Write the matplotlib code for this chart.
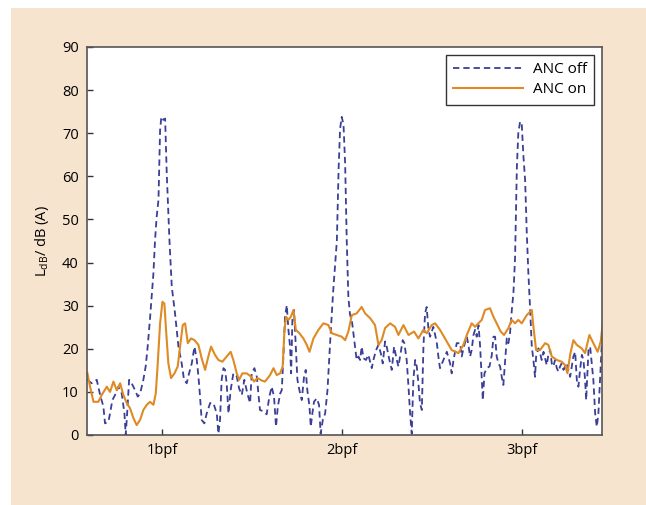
import matplotlib
matplotlib.use("Agg")
import matplotlib.pyplot as plt
from matplotlib.patches import Rectangle

# ANC off (blue, dashed), x in multiples of bpf
off_bpf = [0.585, 0.609, 0.637, 0.656, 0.674, 0.683, 0.702, 0.711, 0.724, 0.739,
           0.757, 0.776, 0.791, 0.798, 0.806, 0.817, 0.831, 0.850, 0.865, 0.878,
           0.896, 0.909, 0.920, 0.933, 0.952, 0.961, 0.970, 0.980, 0.989, 0.996,
           1.007, 1.017, 1.026, 1.041, 1.054, 1.072, 1.091, 1.109, 1.122, 1.137,
           1.150, 1.165, 1.180, 1.193, 1.202, 1.211, 1.220, 1.235, 1.248, 1.267,
           1.285, 1.304, 1.313, 1.322, 1.331, 1.341, 1.350, 1.359, 1.369, 1.381,
           1.396, 1.415, 1.428, 1.443, 1.457, 1.474, 1.489, 1.498, 1.513, 1.526,
           1.544, 1.563, 1.581, 1.596, 1.609, 1.622, 1.633, 1.643, 1.656, 1.665,
           1.674, 1.683, 1.693, 1.702, 1.711, 1.717, 1.724, 1.733, 1.743, 1.752,
           1.763, 1.776, 1.789, 1.798, 1.807, 1.819, 1.826, 1.835, 1.844, 1.859,
           1.872, 1.881, 1.893, 1.906, 1.919, 1.933, 1.950, 1.971, 1.981, 1.989,
           1.998, 2.008, 2.017, 2.026, 2.035, 2.044, 2.056, 2.072, 2.081, 2.091,
           2.100, 2.109, 2.119, 2.133, 2.146, 2.165, 2.174, 2.189, 2.202, 2.215,
           2.226, 2.239, 2.248, 2.263, 2.276, 2.289, 2.304, 2.313, 2.322, 2.337,
           2.346, 2.359, 2.369, 2.378, 2.387, 2.396, 2.406, 2.415, 2.424, 2.433,
           2.443, 2.452, 2.461, 2.470, 2.480, 2.489, 2.507, 2.526, 2.535, 2.544,
           2.563, 2.582, 2.600, 2.609, 2.619, 2.637, 2.656, 2.665, 2.674, 2.693,
           2.702, 2.711, 2.720, 2.730, 2.739, 2.748, 2.758, 2.767, 2.776, 2.782,
           2.791, 2.804, 2.819, 2.832, 2.841, 2.850, 2.859, 2.869, 2.878, 2.887,
           2.896, 2.906, 2.915, 2.924, 2.933, 2.943, 2.952, 2.961, 2.971, 2.979,
           2.989, 2.998, 3.007, 3.017, 3.026, 3.035, 3.044, 3.054, 3.063, 3.072,
           3.078, 3.091, 3.100, 3.109, 3.119, 3.128, 3.137, 3.146, 3.156, 3.165,
           3.174, 3.183, 3.193, 3.202, 3.211, 3.220, 3.230, 3.239, 3.248, 3.257,
           3.267, 3.276, 3.285, 3.295, 3.304, 3.313, 3.322, 3.332, 3.341, 3.350,
           3.356, 3.363, 3.369, 3.378, 3.387, 3.396, 3.406, 3.415, 3.424, 3.433,
           3.443]
off_db = [12.8, 12.0, 12.8, 9.3, 6.6, 2.7, 3.1, 5.0, 8.1, 9.3,
          11.2, 9.6, 5.0, 0.0, 5.0, 12.8, 12.0, 10.4, 8.9, 9.6,
          12.8, 15.9, 20.5, 27.0, 37.5, 45.2, 50.6, 54.5, 70.7, 73.8,
          73.1, 73.4, 60.7, 45.2, 34.4, 28.2, 20.5, 16.6, 12.8, 12.0,
          14.3, 16.6, 20.5, 17.4, 13.6, 8.9, 3.5, 2.7, 5.0, 7.4,
          7.4, 5.0, 0.3, 3.5, 12.8, 15.5, 15.1, 12.0, 5.0, 10.4,
          14.3, 13.6, 10.8, 9.3, 12.8, 9.6, 7.4, 14.3, 15.5, 13.6,
          5.8, 5.5, 4.8, 8.9, 11.2, 8.9, 1.9, 6.6, 9.6, 10.4,
          18.2, 27.4, 30.1, 24.4, 20.5, 14.3, 26.7, 29.0, 20.5, 12.8,
          10.4, 8.1, 13.6, 15.1, 10.4, 6.6, 1.9, 5.0, 7.7, 8.5,
          7.0, 0.3, 3.5, 5.0, 10.4, 21.0, 33.0, 45.0, 62.0, 71.0,
          73.8, 72.0, 63.0, 45.0, 32.0, 28.0, 26.0, 20.5, 17.4, 18.2,
          17.4, 20.5, 17.8, 17.4, 18.6, 15.5, 17.4, 19.7, 20.9, 19.0,
          16.6, 21.7, 20.5, 17.4, 15.1, 20.5, 17.4, 15.9, 18.2, 22.0,
          21.3, 17.4, 11.2, 5.0, 0.3, 12.8, 17.4, 15.9, 12.0, 7.4,
          5.8, 20.5, 28.2, 29.7, 24.4, 22.8, 25.1, 21.5, 18.2, 15.5,
          17.4, 19.3, 16.6, 14.3, 17.4, 21.3, 21.3, 18.2, 20.1, 22.8,
          20.9, 18.2, 19.7, 23.2, 24.4, 22.8, 25.5, 20.5, 12.8, 8.1,
          14.3, 15.5, 15.9, 18.6, 22.8, 22.8, 18.2, 16.6, 15.9, 13.5,
          11.6, 17.4, 22.4, 21.3, 23.6, 29.0, 33.0, 41.0, 62.0, 70.0,
          72.7, 72.3, 65.0, 59.0, 47.0, 37.5, 29.8, 20.5, 17.4, 13.5,
          18.2, 20.1, 19.0, 17.4, 19.3, 17.8, 16.2, 18.6, 19.7, 16.6,
          15.9, 17.4, 15.5, 14.7, 15.9, 16.6, 15.1, 15.9, 16.6, 15.1,
          13.5, 15.9, 18.2, 19.3, 12.8, 11.2, 15.1, 18.6, 17.4, 12.8,
          8.1, 14.3, 19.7, 20.5, 16.6, 12.8, 5.0, 1.9, 5.0, 12.8,
          21.3]

# ANC on (orange, solid)
on_bpf = [0.585, 0.600, 0.619, 0.646, 0.665, 0.693, 0.711, 0.730, 0.748, 0.767,
          0.785, 0.804, 0.822, 0.841, 0.859, 0.878, 0.896, 0.915, 0.933, 0.952,
          0.965, 0.976, 0.989, 1.002, 1.013, 1.022, 1.035, 1.050, 1.069, 1.087,
          1.100, 1.115, 1.128, 1.143, 1.161, 1.180, 1.202, 1.220, 1.239, 1.257,
          1.272, 1.294, 1.313, 1.335, 1.359, 1.381, 1.396, 1.415, 1.428, 1.446,
          1.470, 1.493, 1.511, 1.530, 1.556, 1.572, 1.600, 1.619, 1.637, 1.656,
          1.670, 1.680, 1.689, 1.702, 1.715, 1.730, 1.743, 1.763, 1.785, 1.804,
          1.819, 1.841, 1.869, 1.896, 1.924, 1.943, 1.970, 1.998, 2.017, 2.035,
          2.054, 2.081, 2.109, 2.128, 2.156, 2.183, 2.202, 2.220, 2.239, 2.267,
          2.294, 2.313, 2.341, 2.369, 2.400, 2.424, 2.452, 2.470, 2.498, 2.517,
          2.544, 2.581, 2.609, 2.646, 2.674, 2.693, 2.720, 2.739, 2.757, 2.776,
          2.794, 2.822, 2.841, 2.859, 2.881, 2.900, 2.924, 2.942, 2.961, 2.979,
          2.998, 3.026, 3.054, 3.063, 3.078, 3.100, 3.128, 3.146, 3.165, 3.193,
          3.220, 3.239, 3.252, 3.267, 3.285, 3.304, 3.331, 3.350, 3.374, 3.396,
          3.420, 3.437, 3.448]
on_db = [14.4, 11.2, 7.7, 7.7, 9.3, 11.2, 10.0, 12.4, 10.4, 12.0,
         9.3, 7.4, 6.2, 3.9, 2.3, 3.5, 5.8, 7.0, 7.7, 7.0,
         9.6, 16.6, 25.9, 30.9, 30.5, 24.4, 16.6, 13.2, 14.3, 15.9,
         20.5, 25.5, 25.9, 21.3, 22.4, 22.0, 20.9, 17.8, 15.1, 18.2,
         20.5, 18.6, 17.4, 17.0, 18.2, 19.3, 17.4, 14.3, 12.8, 14.3,
         14.3, 13.6, 12.4, 13.2, 12.6, 12.4, 13.9, 15.5, 13.9, 14.3,
         15.9, 24.4, 27.4, 26.7, 27.4, 29.0, 24.4, 23.6, 22.4, 20.9,
         19.3, 22.4, 24.4, 25.9, 25.5, 23.6, 23.2, 22.8, 22.0, 24.0,
         27.8, 28.2, 29.7, 28.2, 27.1, 25.5, 20.9, 22.0, 24.8, 25.9,
         25.1, 23.2, 25.5, 23.2, 24.0, 22.4, 24.4, 23.6, 25.5, 25.9,
         24.4, 21.7, 19.7, 19.0, 20.9, 23.2, 25.9, 25.1, 25.9, 26.7,
         29.0, 29.4, 27.4, 25.9, 24.0, 23.2, 24.8, 26.7, 25.9, 26.7,
         25.9, 27.8, 29.0, 25.1, 19.7, 19.7, 21.3, 20.9, 18.2, 17.4,
         17.0, 16.2, 14.3, 18.6, 22.0, 20.9, 20.1, 19.0, 23.2, 21.3,
         19.3, 21.7, 25.9]

tick_pos = [1, 2, 3]
tick_labels = ["1bpf", "2bpf", "3bpf"]

plt.rcParams['font.family'] = ['Open Sans', 'DejaVu Sans']
plt.rcParams['font.size'] = 10.5

fig = plt.figure(figsize=(6.46, 5.05), dpi=100)
fig.patch.set_facecolor('white')
# beige panel behind the chart
fig.patches.append(Rectangle((11 / 646, 0), 1, (505 - 8) / 505, transform=fig.transFigure,
                             facecolor='#f7e4cf', edgecolor='none', zorder=-1))

ax = fig.add_axes([87 / 646, 70 / 505, 515 / 646, 388 / 505])
ax.plot(off_bpf, off_db, color='#3b3f96', lw=1.3, ls=(0, (3.5, 2.2)), label='ANC off')
ax.plot(on_bpf, on_db, color='#de8a25', lw=1.5, label='ANC on')

ax.set_xlim(0.583, 3.444)
ax.set_ylim(0, 90)
ax.set_yticks(range(0, 91, 10))
ax.set_xticks(tick_pos)
ax.set_xticklabels(tick_labels)
ax.tick_params(direction='in', length=4, width=1, color='#333333', pad=6)
for s in ax.spines.values():
    s.set_color('#555555')
    s.set_linewidth(1.2)

ax.set_ylabel(r'L$_{\mathregular{dB}}$/ dB (A)', labelpad=8)

leg = ax.legend(loc='upper right', borderaxespad=0.5, fancybox=False, framealpha=1,
                handlelength=4.6, handletextpad=0.6, borderpad=0.5, labelspacing=0.3,
                fontsize=11)
leg.get_frame().set_edgecolor('#333333')
leg.get_frame().set_linewidth(1.0)

fig.savefig('out.png', dpi=100)
